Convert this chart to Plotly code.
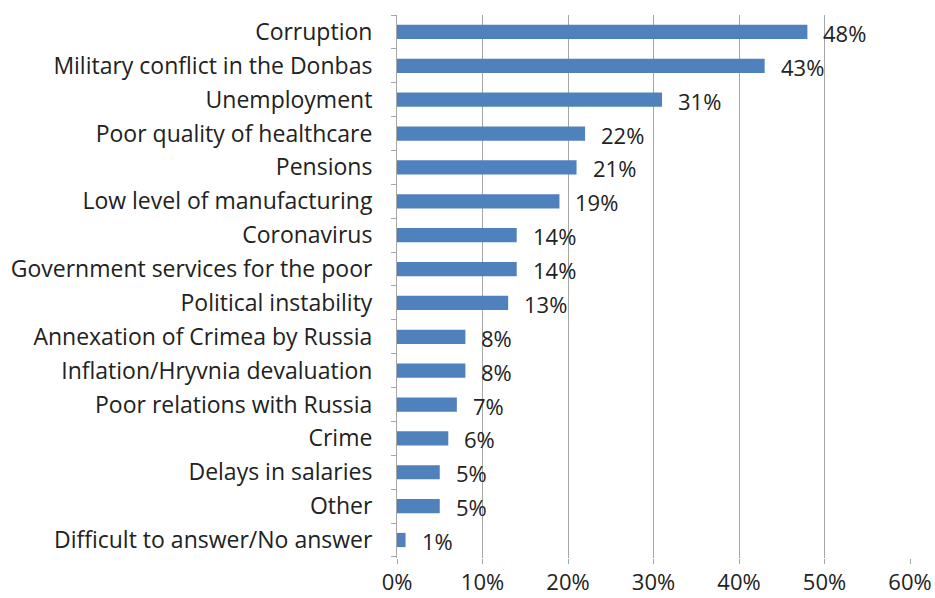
import plotly.graph_objects as go

categories = [
    "Corruption", "Military conflict in the Donbas", "Unemployment",
    "Poor quality of healthcare", "Pensions", "Low level of manufacturing",
    "Coronavirus", "Government services for the poor", "Political instability",
    "Annexation of Crimea by Russia", "Inflation/Hryvnia devaluation",
    "Poor relations with Russia", "Crime", "Delays in salaries", "Other",
    "Difficult to answer/No answer",
]
values = [48, 43, 31, 22, 21, 19, 14, 14, 13, 8, 8, 7, 6, 5, 5, 1]
tick_vals = [0, 10, 20, 30, 40, 50, 60]
tick_text = ["0%", "10%", "20%", "30%", "40%", "50%", "60%"]

FONT = "Open Sans"
TXT = "#222222"
GRID = "#a6a6a6"

fig = go.Figure()
fig.add_trace(go.Bar(
    x=values, y=categories, orientation="h",
    marker=dict(color="#4F81BD", line=dict(width=0)),
    width=0.42,
    hoverinfo="skip",
))
for c, v in zip(categories, values):
    fig.add_annotation(x=v, y=c, text=f"{v}%", showarrow=False,
                       xanchor="left", yanchor="middle", xshift=14, yshift=-1,
                       font=dict(family=FONT, size=22, color=TXT))

fig.update_layout(
    width=935, height=598,
    margin=dict(l=397, r=25, t=15, b=40, autoexpand=False),
    paper_bgcolor="white", plot_bgcolor="white",
    showlegend=False,
    font=dict(family=FONT, size=22, color=TXT),
    xaxis=dict(
        range=[0, 60], tickvals=tick_vals, ticktext=tick_text,
        showgrid=True, gridcolor=GRID, gridwidth=1,
        zeroline=False, showline=False,
        ticks="outside", ticklen=5, tickcolor=GRID,
        tickfont=dict(family=FONT, size=22, color=TXT),
        fixedrange=True,
    ),
    yaxis=dict(
        categoryorder="array", categoryarray=categories[::-1],
        showgrid=False, zeroline=False,
        showline=True, linecolor=GRID, linewidth=1,
        ticks="outside", ticklen=5, tickcolor=GRID, tickson="boundaries",
        ticklabelstandoff=19,
        tickfont=dict(family=FONT, size=23, color=TXT),
        fixedrange=True,
    ),
)
fig.write_html("out.html")
